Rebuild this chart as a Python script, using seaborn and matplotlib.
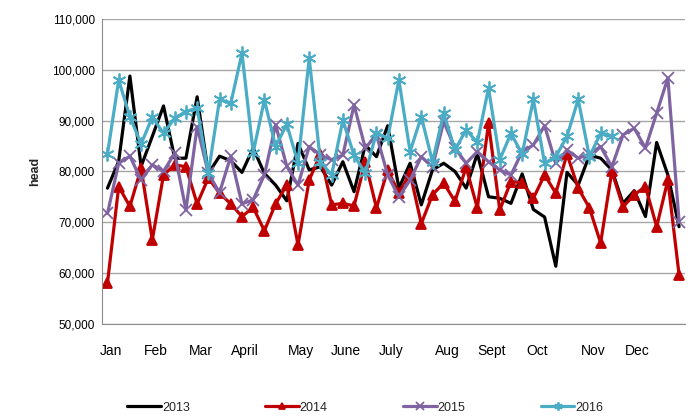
import numpy as np
import pandas as pd
import matplotlib
matplotlib.use("Agg")
import matplotlib.pyplot as plt
import seaborn as sns
from matplotlib.ticker import FuncFormatter

# weekly values (head)
y2013 = [76700, 82000, 98800, 81000, 86900, 92900, 82600, 82600, 94700, 79600,
         83000, 82100, 79800, 84600, 79600, 77300, 74200, 85500, 80300, 80900,
         77300, 81900, 76000, 85200, 82900, 89000, 76700, 81600, 73400, 80300,
         81600, 80000, 76700, 83500, 75000, 74700, 73700, 79500, 72500, 71000,
         61300, 79800, 77300, 83200, 82600, 80300, 73700, 76200, 71100, 85700,
         79300, 69100]
y2014 = [58000, 77000, 73100, 80600, 66500, 79300, 81300, 80900, 73600, 78700,
         75700, 73600, 71100, 72900, 68300, 73600, 77300, 65500, 78300, 83400,
         73400, 73700, 73200, 81900, 72800, 80300, 75700, 79600, 69700, 75400,
         77700, 74100, 80800, 72800, 89500, 72400, 78000, 77800, 74700, 79300,
         75700, 83400, 76700, 72800, 65900, 80000, 73000, 75400, 77000, 69100,
         78300, 59600]
y2015 = [71700, 81600, 83000, 78300, 81300, 80000, 83600, 72400, 88800, 79600,
         75800, 83000, 73600, 74400, 79300, 89200, 81000, 77300, 84900, 83200,
         82300, 83200, 93100, 84600, 87200, 79300, 75000, 78300, 82900, 80900,
         89800, 84600, 81600, 83900, 81900, 80300, 79300, 83900, 85200, 89000,
         81600, 84200, 82600, 83400, 84900, 80900, 87200, 88500, 84600, 91500,
         98400, 70100]
y2016 = [83400, 98000, 90800, 85400, 90700, 87500, 90500, 91800, 92500, 79600,
         94200, 93400, 103300, 83700, 94100, 84900, 89300, 81600, 102300, 81900,
         79300, 90100, 83200, 79600, 87600, 86500, 98000, 83900, 90800, 81900,
         91500, 84200, 88200, 85700, 96400, 82300, 87500, 83400, 94200, 81600,
         82900, 86900, 94200, 82900, 87500, 86900]

month_labels = ["Jan", "Feb", "Mar", "April", "May", "June", "July",
                "Aug", "Sept", "Oct", "Nov", "Dec"]
month_weeks = [0, 4, 8, 12, 17, 21, 25, 30, 34, 38, 43, 47]

series = {"2013": y2013, "2014": y2014, "2015": y2015, "2016": y2016}
colors = {"2013": "#000000", "2014": "#C00000", "2015": "#8064A2", "2016": "#4BACC6"}
markers = {"2013": None, "2014": "^", "2015": "x", "2016": (6, 2, 0)}
msizes = {"2013": 0, "2014": 7.5, "2015": 9, "2016": 10}

sns.set_style("white")
plt.rcParams["font.family"] = ["Liberation Sans", "DejaVu Sans"]

fig = plt.figure(figsize=(6.93, 4.17), dpi=100)
ax = fig.add_axes([0.147, 0.224, 0.841, 0.730])

for name, vals in series.items():
    df = pd.DataFrame({"week": np.arange(len(vals)), "head": vals})
    sns.lineplot(data=df, x="week", y="head", ax=ax, color=colors[name],
                 linewidth=2.3, marker=markers[name], markersize=msizes[name],
                 markeredgecolor=colors[name], markeredgewidth=1.3,
                 label=name)

ax.set_xlim(-0.5, 51.5)
ax.set_ylim(50000, 110000)
ax.set_yticks(np.arange(50000, 110001, 10000))
ax.yaxis.set_major_formatter(FuncFormatter(lambda v, p: f"{int(v):,}"))
ax.set_xticks([w + 0.3 for w in month_weeks])
ax.set_xticklabels(month_labels)
ax.tick_params(axis="x", length=0, pad=15, labelsize=10, colors="#000000")
ax.tick_params(axis="y", length=0, pad=5, labelsize=8.5, colors="#000000")
ax.grid(axis="y", color="#A6A6A6", linewidth=1)
ax.set_axisbelow(True)
for s in ["top", "right"]:
    ax.spines[s].set_visible(False)
ax.spines["left"].set_color("#8C8C8C")
ax.spines["bottom"].set_color("#8C8C8C")
ax.set_xlabel("")
ax.set_ylabel("head", fontsize=9, fontweight="bold", labelpad=8)

ax.legend(loc="upper center", bbox_to_anchor=(0.452, -0.22), ncol=4,
          frameon=False, fontsize=9, handlelength=2.7, handletextpad=0.1,
          columnspacing=6.0, markerscale=0.6)

fig.savefig("out.png", dpi=100)
